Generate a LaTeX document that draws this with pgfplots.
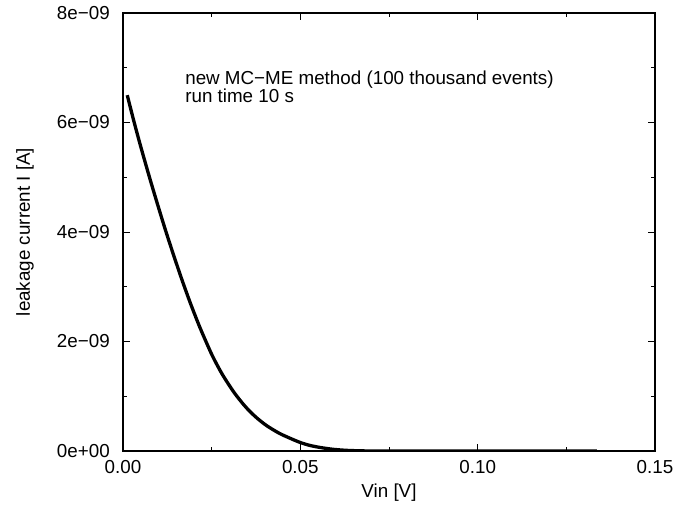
\documentclass[border=0pt]{standalone}
\usepackage{fontspec}
\setmainfont{Liberation Sans}
\usepackage{pgfplots}
\pgfplotsset{compat=1.18}
\begin{document}
\begin{tikzpicture}[x=1pt,y=1pt]
\path[use as bounding box] (0,0) rectangle (691,506);
\begin{axis}[
  at={(123pt,55pt)}, anchor=south west,
  scale only axis, width=532pt, height=438pt,
  xmin=0, xmax=0.15, ymin=0, ymax=8e-9,
  xtick={0,0.05,0.1,0.15}, xticklabels={0.00,0.05,0.10,0.15},
  ytick={0,2e-9,4e-9,6e-9,8e-9},
  yticklabels={0e+00,2e−09,4e−09,6e−09,8e−09},
  minor xtick={0.025,0.075,0.125},
  minor ytick={1e-9,3e-9,5e-9,7e-9},
  scaled ticks=false,
  tick align=inside,
  major tick length=7pt, minor tick length=4pt,
  tick style={black, line width=0.8pt},
  axis line style={black, line width=1.2pt},
  ticklabel style={font=\fontsize{18.8}{22}\selectfont},
  xticklabel style={anchor=north, inner sep=0pt, yshift=-9pt},
  yticklabel style={anchor=east, inner sep=0pt, xshift=-13pt},
  label style={font=\fontsize{18.8}{22}\selectfont},
  xlabel={Vin [V]},
  ylabel={leakage current I [A]},
  xlabel style={at={(axis description cs:0.5,0)}, anchor=base, inner sep=0pt, yshift=-47pt},
  ylabel style={at={(axis description cs:-0.184,0.5)}, anchor=center, inner sep=0pt},
]
\addplot[black, line width=3.3pt, smooth, line join=round] table {
x y
0.0012 6.50e-9
0.0030 6.04e-9
0.0050 5.56e-9
0.0076 4.97e-9
0.0100 4.45e-9
0.0119 4.05e-9
0.0140 3.63e-9
0.0165 3.15e-9
0.0190 2.70e-9
0.0216 2.27e-9
0.0240 1.91e-9
0.0255 1.70e-9
0.0280 1.40e-9
0.0312 1.08e-9
0.0340 0.848e-9
0.0359 0.715e-9
0.0380 0.589e-9
0.0406 0.459e-9
0.0440 0.326e-9
0.0472 0.230e-9
0.0500 0.155e-9
0.0528 0.100e-9
0.0560 0.060e-9
0.0594 0.030e-9
0.0630 0.012e-9
0.0670 0.003e-9
0.0700 0.0005e-9
0.0750 0.0
0.1336 0.0
};
\node[anchor=base west, inner sep=0pt, font=\fontsize{18.8}{22}\selectfont] at (axis cs:0.01751,6.70e-9) {new MC−ME method (100 thousand events)};
\node[anchor=base west, inner sep=0pt, font=\fontsize{18.8}{22}\selectfont] at (axis cs:0.01751,6.36e-9) {run time 10 s};
\end{axis}
\end{tikzpicture}
\end{document}
